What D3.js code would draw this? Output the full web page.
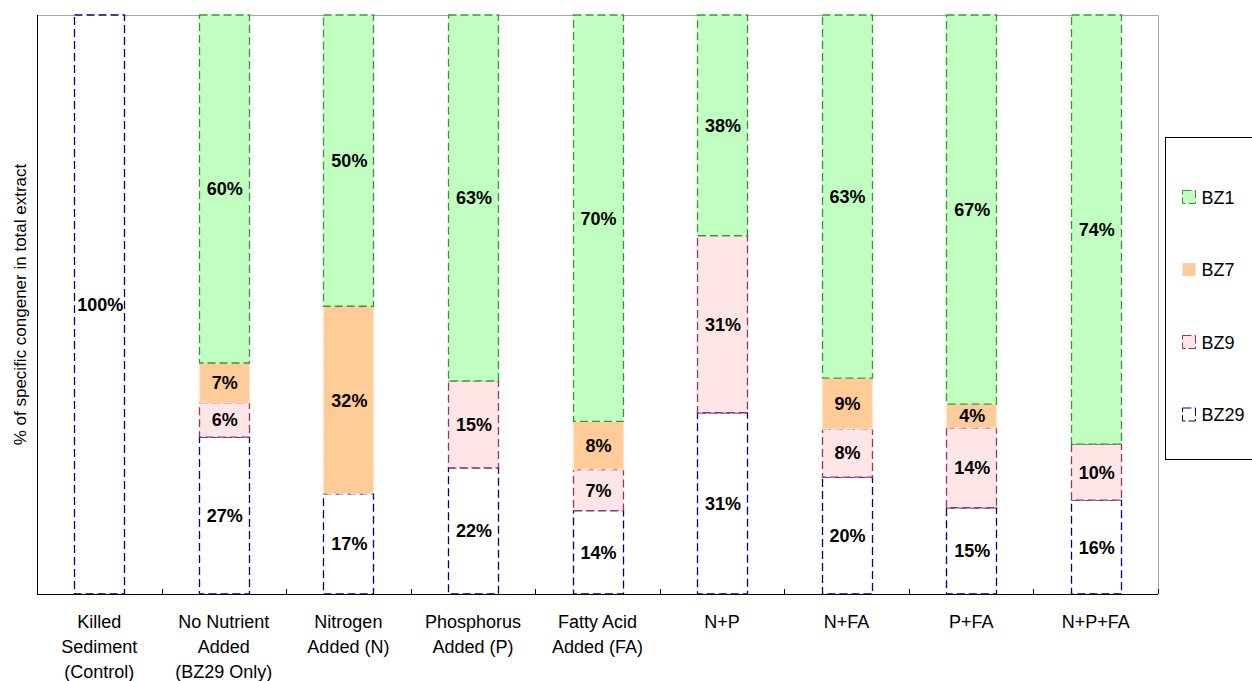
<!DOCTYPE html>
<html>
<head>
<meta charset="utf-8">
<script src="https://cdn.jsdelivr.net/npm/d3@7"></script>
<style>
  body { margin: 0; background: #fff; }
  text { font-family: "Liberation Sans", Arial, sans-serif; }
</style>
</head>
<body>
<svg id="chart" width="1252" height="681"></svg>
<script>
// categories and series (% of total extract), bottom to top
var categories = [
  ["Killed", "Sediment", "(Control)"],
  ["No Nutrient", "Added", "(BZ29 Only)"],
  ["Nitrogen", "Added (N)"],
  ["Phosphorus", "Added (P)"],
  ["Fatty Acid", "Added (FA)"],
  ["N+P"],
  ["N+FA"],
  ["P+FA"],
  ["N+P+FA"]
];
var bz29 = [100, 27.1, 17.3, 21.8, 14.4, 31.3, 20.2, 14.9, 16.2];
var bz9  = [0, 5.9, 0, 15.0, 7.1, 30.6, 8.3, 13.8, 9.7];
var bz7  = [0, 6.9, 32.4, 0, 8.3, 0, 8.8, 4.1, 0];
var bz1  = [0, 60.1, 50.3, 63.2, 70.2, 38.1, 62.7, 67.2, 74.1];
var seriesNames = ["BZ29", "BZ9", "BZ7", "BZ1"];
var yLabel = "% of specific congener in total extract";

var styles = {
  BZ29: {fill: "#ffffff", stroke: "#000080", dash: "8,4"},
  BZ9:  {fill: "#ffe6e6", stroke: "#993366", dash: "8,4"},
  BZ7:  {fill: "#ffcc99", stroke: "#ffe4cc", dash: "8,4"},
  BZ1:  {fill: "#c0ffc0", stroke: "#339933", dash: "8,4"}
};

var margin = {top: 15, right: 94, bottom: 87, left: 37},
    width = 1252 - margin.left - margin.right,
    height = 681 - margin.top - margin.bottom;

var svg = d3.select("svg#chart");
var g = svg.append("g").attr("transform", "translate(" + margin.left + "," + margin.top + ")");

var idx = d3.range(categories.length);
var rows = idx.map(function(i) {
  return {i: i, BZ29: bz29[i], BZ9: bz9[i], BZ7: bz7[i], BZ1: bz1[i]};
});
var stacked = d3.stack().keys(seriesNames)(rows);

var x = d3.scaleBand().domain(idx).range([0, width]);
var y = d3.scaleLinear().domain([0, 100]).range([height, 0]);
var barW = 50;

// plot frame: gray top/right, black left/bottom
g.append("path")
  .attr("d", "M0,0.5H" + (width + 0.5) + "V" + height)
  .attr("fill", "none").attr("stroke", "#a6a6a6");

stacked.forEach(function(s) {
  var st = styles[s.key];
  g.selectAll(null).data(s.filter(function(d) { return d[1] - d[0] > 0; }))
    .enter().append("rect")
      .attr("x", function(d) { return Math.round(x(d.data.i) + x.bandwidth() / 2 - barW / 2) + 0.5; })
      .attr("y", function(d) { return y(d[1]); })
      .attr("width", barW)
      .attr("height", function(d) { return y(d[0]) - y(d[1]); })
      .attr("fill", st.fill)
      .attr("stroke", st.stroke)
      .attr("stroke-width", 1.3)
      .attr("stroke-dasharray", st.dash);
});

stacked.forEach(function(s) {
  g.selectAll(null).data(s.filter(function(d) { return d[1] - d[0] > 0; }))
    .enter().append("text")
      .attr("x", function(d) { return x(d.data.i) + x.bandwidth() / 2 + 1; })
      .attr("y", function(d) { return (y(d[0]) + y(d[1])) / 2; })
      .attr("dy", "0.36em")
      .attr("text-anchor", "middle")
      .attr("font-weight", "bold")
      .attr("font-size", 18)
      .text(function(d) { return d3.format(".0f")(d[1] - d[0]) + "%"; });
});

// axes
g.append("line").attr("x1", 0.5).attr("x2", 0.5).attr("y1", 0).attr("y2", height)
  .attr("stroke", "#000");
g.append("line").attr("x1", 0).attr("x2", width).attr("y1", height + 0.5).attr("y2", height + 0.5)
  .attr("stroke", "#000");
g.selectAll(null).data(d3.range(categories.length + 1)).enter().append("line")
  .attr("x1", function(i) { return Math.round(i * x.step()) + 0.5; })
  .attr("x2", function(i) { return Math.round(i * x.step()) + 0.5; })
  .attr("y1", height - 5).attr("y2", height)
  .attr("stroke", "#000");

// category labels
var lab = g.selectAll(null).data(idx).enter().append("text")
  .attr("text-anchor", "middle")
  .attr("font-size", 18)
  .attr("fill", "#000");
lab.selectAll("tspan").data(function(i) { return categories[i].map(function(t) { return {i: i, t: t}; }); })
  .enter().append("tspan")
    .attr("x", function(d) { return x(d.i) + x.bandwidth() / 2; })
    .attr("y", function(d, k) { return height + 34 + k * 25; })
    .text(function(d) { return d.t; });

// y label
svg.append("text")
  .attr("transform", "translate(26," + (margin.top + height / 2) + ") rotate(-90)")
  .attr("text-anchor", "middle")
  .attr("font-size", 17)
  .text(yLabel);

// legend
var lg = svg.append("g").attr("transform", "translate(1165.5,137.5)");
lg.append("rect").attr("width", 100).attr("height", 322)
  .attr("fill", "#fff").attr("stroke", "#000");
seriesNames.slice().reverse().forEach(function(k, j) {
  var st = styles[k];
  var row = lg.append("g").attr("transform", "translate(0," + (60 + j * 72.5) + ")");
  row.append("rect").attr("x", 17).attr("y", -7).attr("width", 13).attr("height", 13)
    .attr("fill", st.fill)
    .attr("stroke", k === "BZ7" ? "none" : st.stroke)
    .attr("stroke-dasharray", "9,3");
  row.append("text").attr("x", 36).attr("y", 0).attr("dy", "0.36em")
    .attr("font-size", 18).text(k);
});
</script>
</body>
</html>
